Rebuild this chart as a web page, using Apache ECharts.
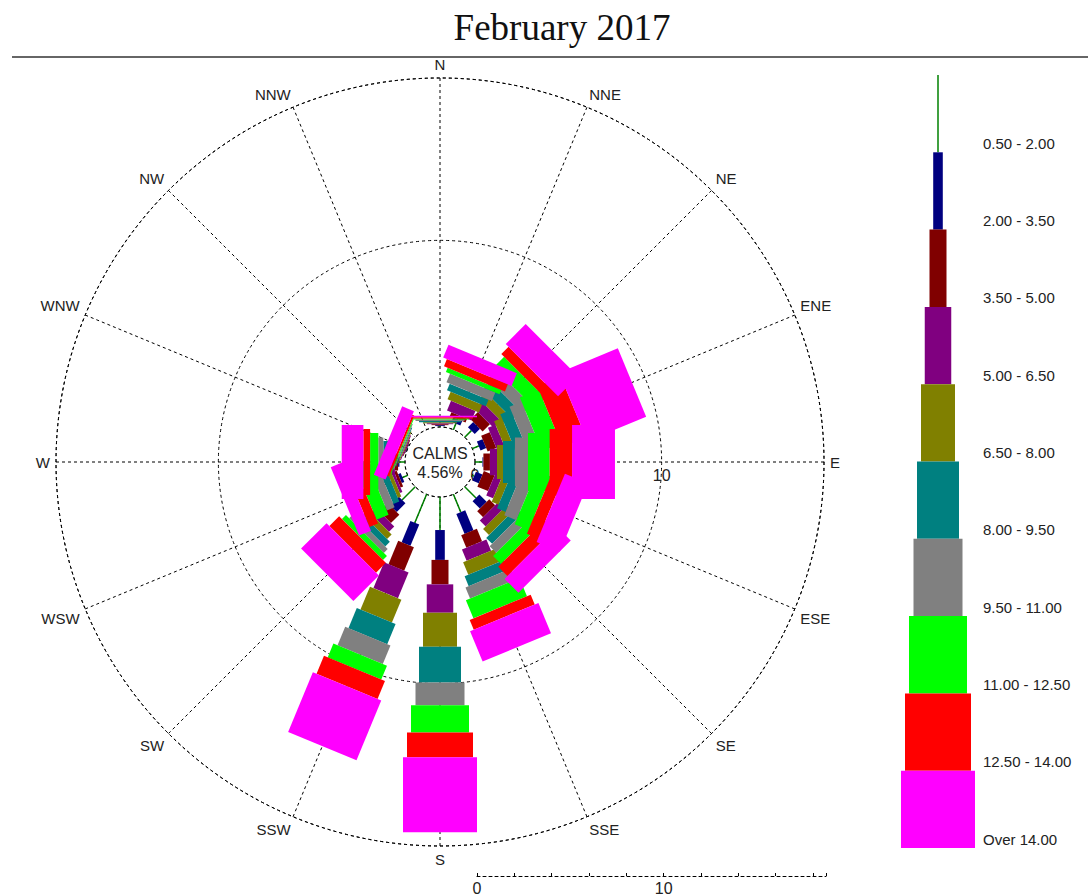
<!DOCTYPE html>
<html>
<head>
<meta charset="utf-8">
<title>February 2017</title>
<script src="https://cdn.jsdelivr.net/npm/echarts@6/dist/echarts.min.js"></script>
<style>
  html, body { margin: 0; padding: 0; background: #fff; }
  #main { width: 1088px; height: 896px; }
</style>
</head>
<body>
<div id="main"></div>
<script>
// ---- data (percent of hours, per direction N..NNW, per speed class) ----
const directions = ['N', 'NNE', 'NE', 'ENE', 'E', 'ESE', 'SE', 'SSE',
                    'S', 'SSW', 'SW', 'WSW', 'W', 'WNW', 'NW', 'NNW'];
const speedClasses = ['0.50 - 2.00', '2.00 - 3.50', '3.50 - 5.00', '5.00 - 6.50', '6.50 - 8.00',
                      '8.00 - 9.50', '9.50 - 11.00', '11.00 - 12.50', '12.50 - 14.00', 'Over 14.00'];

const f_050_200  = [0.05, 0.35, 0.50, 0.37, 0.40, 0.10, 0.85, 1.03, 1.77, 1.65, 1.00, 0.30, 0.30, 0.02, 0, 0];
const f_200_350  = [0.05, 0.25, 0.40, 0.33, 0.05, 0.38, 0.55, 1.16, 1.60, 1.23, 0.66, 0.15, 0.07, 0.03, 0, 0];
const f_350_500  = [0.05, 0.22, 0.55, 0.50, 0.35, 0.62, 0.45, 0.72, 1.31, 1.36, 0.64, 0.15, 0.17, 0.05, 0, 0];
const f_500_650  = [0.05, 0.56, 0.55, 0.44, 0.38, 0.40, 0.45, 0.65, 1.52, 1.49, 0.40, 0.15, 0.17, 0.05, 0, 0];
const f_650_800  = [0.05, 0.44, 0.50, 0.45, 0.32, 0.40, 0.45, 0.73, 1.82, 1.33, 0.35, 0.20, 0.18, 0.05, 0, 0];
const f_800_950  = [0.07, 0.38, 0.60, 0.61, 0.64, 0.50, 0.45, 0.57, 1.92, 1.17, 0.35, 0.35, 0.27, 0.05, 0, 0];
const f_950_1100 = [0.08, 0.50, 0.65, 0.70, 0.70, 0.70, 0.50, 0.64, 1.22, 1.07, 0.30, 0.45, 0.27, 0.05, 0, 0];
const f_1100_1250 = [0.05, 0.25, 0.79, 1.10, 1.16, 0.80, 0.60, 1.05, 1.46, 0.80, 0.30, 0.70, 0.44, 0.05, 0, 0];
const f_1250_1400 = [0.07, 0.41, 0.55, 1.35, 1.20, 0.65, 0.70, 0.57, 1.32, 1.04, 0.74, 0.50, 0.36, 0.11, 0, 0];
const f_over_1400 = [0.08, 0.74, 1.51, 3.41, 2.30, 1.35, 1.05, 1.76, 4.02, 3.46, 1.93, 0.69, 1.16, 0.68, 0, 0];

const calmsPct = 4.56;
const radiusTicks = [0, 10];
const scaleMax = 18.7;

// ---- styles ----
const classColors = ['#008000', '#000080', '#800000', '#800080', '#808000',
                     '#008080', '#808080', '#00ff00', '#ff0000', '#ff00ff'];
const classWidths = [1.5, 9.6, 17, 26.5, 34, 42, 49, 58, 66, 74];
const dash = { color: '#000', width: 1, type: [3, 3] };
const labelFont = '"Liberation Sans", Arial, sans-serif';

const classFreqs = [f_050_200, f_200_350, f_350_500, f_500_650, f_650_800,
                    f_800_950, f_950_1100, f_1100_1250, f_1250_1400, f_over_1400];

// angle axis starts at east (so the radius labels sit on the E spoke); compass -> axis value
const toAxis = c => (c + 270) % 360;
const dirName = v => directions[Math.round(((v + 90) % 360) / 22.5) % 16];

// cumulative stacks
const cum = directions.map(() => 0);
const roseSeries = classFreqs.map((freqs, k) => {
  const data = directions.map((d, i) => {
    const r0 = cum[i];
    cum[i] = +(cum[i] + freqs[i]).toFixed(3);
    return [toAxis(i * 22.5), r0, cum[i]];
  });
  return {
    type: 'custom',
    name: speedClasses[k],
    coordinateSystem: 'polar',
    encode: { angle: 0, radius: [1, 2] },
    data: data,
    renderItem: function (params, api) {
      const ang = api.value(0), r0 = api.value(1), r1 = api.value(2);
      if (!(r1 > r0)) return null;
      const a = api.coord([r0, ang]);
      const b = api.coord([r1, ang]);
      const o = api.coord([0, ang]);
      const f = api.coord([scaleMax, ang]);
      const len = Math.hypot(f[0] - o[0], f[1] - o[1]);
      const ux = (f[0] - o[0]) / len, uy = (f[1] - o[1]) / len;
      const h = classWidths[k] / 2;
      const nx = -uy * h, ny = ux * h;
      return {
        type: 'polygon',
        shape: { points: [[a[0] + nx, a[1] + ny], [b[0] + nx, b[1] + ny],
                          [b[0] - nx, b[1] - ny], [a[0] - nx, a[1] - ny]] },
        style: { fill: classColors[k] }
      };
    }
  };
});

const legendSeries = {
  type: 'custom',
  coordinateSystem: 'cartesian2d',
  xAxisIndex: 0,
  yAxisIndex: 0,
  encode: { x: 0, y: 1 },
  data: speedClasses.map((s, k) => [0, k]),
  renderItem: function (params, api) {
    const k = api.value(1);
    const c = api.coord([0, k]);
    const band = api.size([0, 1])[1];
    const h = classWidths[k] / 2;
    return {
      type: 'group',
      children: [
        { type: 'rect', shape: { x: c[0] - h, y: c[1] - band / 2, width: h * 2, height: band },
          style: { fill: classColors[k] } },
        { type: 'text', x: c[0] + 45, y: c[1] + band / 2 - 9,
          style: { text: speedClasses[k], fill: '#222', font: '15px ' + labelFont,
                   align: 'left', verticalAlign: 'middle' } }
      ]
    };
  }
};

const option = {
  animation: false,
  backgroundColor: '#fff',
  title: {
    text: 'February 2017',
    left: 557,
    top: 4,
    textAlign: 'center',
    textStyle: { fontFamily: '"Liberation Serif", "Times New Roman", serif', fontSize: 37,
                 fontWeight: 'normal', color: '#111' }
  },
  graphic: [
    { type: 'line', shape: { x1: 12, y1: 57, x2: 1088, y2: 57 },
      style: { stroke: '#333', lineWidth: 1.5 } },
    { type: 'text', x: 440, y: 453,
      style: { text: 'CALMS', font: '16px ' + labelFont, fill: '#222', align: 'center', verticalAlign: 'middle' } },
    { type: 'text', x: 440, y: 472,
      style: { text: calmsPct.toFixed(2) + '%', font: '16px ' + labelFont, fill: '#222', align: 'center', verticalAlign: 'middle' } }
  ],
  polar: { center: [440, 462], radius: [35, 384] },
  angleAxis: {
    type: 'value', min: 0, max: 360, interval: 22.5, startAngle: 0, clockwise: true,
    axisLine: { show: true, lineStyle: dash },
    axisTick: { show: false },
    splitLine: { show: true, lineStyle: dash },
    axisLabel: {
      margin: 6, color: '#222', fontSize: 15, fontFamily: labelFont,
      formatter: v => (v >= 360 ? '' : dirName(v))
    }
  },
  radiusAxis: {
    type: 'value', min: 0, max: scaleMax, interval: 10,
    axisLine: { show: false },
    axisTick: { show: false },
    splitLine: { show: true, lineStyle: dash },
    axisLabel: {
      color: '#222', fontSize: 16, fontFamily: labelFont,
      margin: -5, verticalAlign: 'top',
      formatter: v => (radiusTicks.indexOf(v) >= 0 ? String(v) : '')
    }
  },
  grid: [
    { left: 900, width: 76, top: 75, height: 773 },
    { left: 477, width: 349, top: 875, height: 1 }
  ],
  xAxis: [
    { gridIndex: 0, type: 'value', min: -1, max: 1, show: false },
    { gridIndex: 1, type: 'value', min: 0, max: scaleMax, interval: 2, position: 'bottom',
      axisLine: { show: true, lineStyle: dash },
      axisTick: { show: true, inside: true, length: 3, lineStyle: { color: '#000' } },
      splitLine: { show: false },
      axisLabel: { color: '#222', fontSize: 16, fontFamily: labelFont, margin: 4,
                   formatter: v => (radiusTicks.indexOf(v) >= 0 ? String(v) : '') } }
  ],
  yAxis: [
    { gridIndex: 0, type: 'category', data: speedClasses, inverse: true, show: false },
    { gridIndex: 1, type: 'value', show: false }
  ],
  series: roseSeries.concat([legendSeries])
};

const chart = echarts.init(document.getElementById('main'), null, { renderer: 'svg' });
chart.setOption(option);
</script>
</body>
</html>
